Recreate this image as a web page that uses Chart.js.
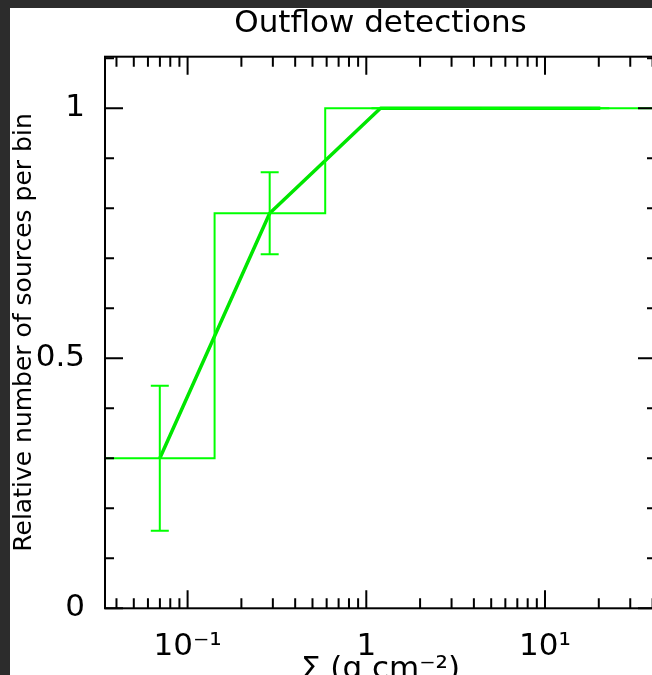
<!DOCTYPE html>
<html>
<head>
<meta charset="utf-8">
<title>Outflow detections</title>
<script src="https://cdn.jsdelivr.net/npm/chart.js@4.4.1/dist/chart.umd.min.js"></script>
<style>
  html, body { margin: 0; padding: 0; overflow: hidden; background: #2c2c2c; }
  #frame { position: absolute; left: 10px; top: 8px; width: 680px; height: 700px; background: #fff; }
  canvas { display: block; }
</style>
</head>
<body>
<div id="frame"><canvas id="chart" width="680" height="700"></canvas></div>
<script>
'use strict';

// Histogram bins (surface density, g cm^-2) and fraction of sources with outflows
const binEdges = [0.0345, 0.1416, 0.589, 2.44, 10.1, 41.8];
const binFractions = [0.3, 0.79, 1.0, 1.0, 1.0];

// Bin centres with errors
const centreSigma = [0.0699, 0.288, 1.2, 4.96, 20.4];
const centreFraction = [0.3, 0.79, 1.0, 1.0, 1.0];
const centreError = [0.145, 0.082, 0, 0, 0];

// Axis ticks
const xTickValues = [0.1, 1, 10];
const xTickLabels = ['10\u207B\u00B9', '1', '10\u00B9'];
const yTickValues = [0, 0.5, 1];
const yTickLabels = ['0', '0.5', '1'];

const xMin = 0.0345, xMax = 41.8;
const yMin = 0, yMax = 1.103;

const green = '#00ff00';
const lineGreen = '#00e600';

Chart.defaults.font.family = "'DejaVu Sans', sans-serif";
Chart.defaults.color = '#000';

// error bars drawn from the data through the scales
const errorBars = {
  id: 'errorBars',
  afterDatasetsDraw(chart) {
    const {ctx, scales: {x, y}} = chart;
    ctx.save();
    ctx.strokeStyle = green;
    ctx.lineWidth = 2;
    centreSigma.forEach((s, i) => {
      const px = x.getPixelForValue(s);
      const top = y.getPixelForValue(centreFraction[i] + centreError[i]);
      const bot = y.getPixelForValue(centreFraction[i] - centreError[i]);
      ctx.beginPath();
      ctx.moveTo(px, top);
      ctx.lineTo(px, bot);
      ctx.moveTo(px - 9, top);
      ctx.lineTo(px + 9, top);
      ctx.moveTo(px - 9, bot);
      ctx.lineTo(px + 9, bot);
      ctx.stroke();
    });
    ctx.restore();
  }
};

// box with inward ticks on all four sides
const boxTicks = {
  id: 'boxTicks',
  afterDraw(chart) {
    const {ctx, chartArea: a, scales: {x, y}} = chart;
    ctx.save();
    ctx.strokeStyle = '#000';
    ctx.lineWidth = 2;
    ctx.strokeRect(a.left, a.top, a.right - a.left, a.bottom - a.top);
    ctx.beginPath();
    for (let e = -2; e <= 1; e++) {
      for (let m = 1; m <= 9; m++) {
        const v = m * Math.pow(10, e);
        if (v < xMin || v > xMax) continue;
        const px = x.getPixelForValue(v);
        const len = m === 1 ? 18 : 10;
        ctx.moveTo(px, a.bottom);
        ctx.lineTo(px, a.bottom - len);
        ctx.moveTo(px, a.top);
        ctx.lineTo(px, a.top + len);
      }
    }
    for (let k = 0; k <= 11; k++) {
      const v = k / 10;
      if (v > yMax) continue;
      const py = y.getPixelForValue(v);
      const len = k % 5 === 0 ? 18 : 9;
      ctx.moveTo(a.left, py);
      ctx.lineTo(a.left + len, py);
      ctx.moveTo(a.right, py);
      ctx.lineTo(a.right - len, py);
    }
    ctx.stroke();
    ctx.restore();
  }
};

const histPoints = binEdges.map((e, i) => ({x: e, y: binFractions[Math.min(i, binFractions.length - 1)]}));
const centrePoints = centreSigma.map((s, i) => ({x: s, y: centreFraction[i]}));

new Chart(document.getElementById('chart').getContext('2d'), {
  type: 'line',
  data: {
    datasets: [
      {
        label: 'Histogram',
        data: histPoints,
        stepped: 'before',
        borderColor: green,
        borderWidth: 2,
        pointRadius: 0,
        fill: false
      },
      {
        label: 'Bin centres',
        data: centrePoints,
        borderColor: lineGreen,
        borderWidth: 3.5,
        borderJoinStyle: 'round',
        pointRadius: 0,
        tension: 0,
        fill: false
      }
    ]
  },
  options: {
    responsive: false,
    animation: false,
    devicePixelRatio: 1,
    layout: { padding: { left: 0, top: 0, right: 34, bottom: 0 } },
    plugins: {
      legend: { display: false },
      tooltip: { enabled: false },
      title: {
        display: true,
        text: 'Outflow detections',
        fullSize: false,
        color: '#000',
        font: { size: 31, weight: 'normal', lineHeight: 1 },
        padding: { top: 0, bottom: 17.7 }
      }
    },
    scales: {
      x: {
        type: 'logarithmic',
        min: xMin,
        max: xMax,
        grid: { display: false, drawTicks: false },
        border: { display: false },
        afterBuildTicks(scale) {
          scale.ticks = xTickValues.map(v => ({value: v}));
        },
        afterFit(scale) { scale.height = 99.7; },
        ticks: {
          font: { size: 31 },
          padding: 20,
          maxRotation: 0,
          autoSkip: false,
          callback: (v) => xTickLabels[xTickValues.indexOf(v)]
        },
        title: {
          display: true,
          text: '\u03A3 (g cm\u207B\u00B2)',
          font: { size: 31, lineHeight: 1 },
          padding: { top: 0, bottom: 23 }
        }
      },
      y: {
        type: 'linear',
        min: yMin,
        max: yMax,
        grid: { display: false, drawTicks: false },
        border: { display: false },
        afterBuildTicks(scale) {
          scale.ticks = yTickValues.map(v => ({value: v}));
        },
        afterFit(scale) { scale.width = 95; },
        ticks: {
          font: { size: 31 },
          padding: 20,
          callback: (v) => yTickLabels[yTickValues.indexOf(v)]
        },
        title: {
          display: true,
          text: 'Relative number of sources per bin',
          font: { size: 25, lineHeight: 1 },
          padding: { top: 2, bottom: 0 }
        }
      }
    }
  },
  plugins: [errorBars, boxTicks]
});
</script>
</body>
</html>
